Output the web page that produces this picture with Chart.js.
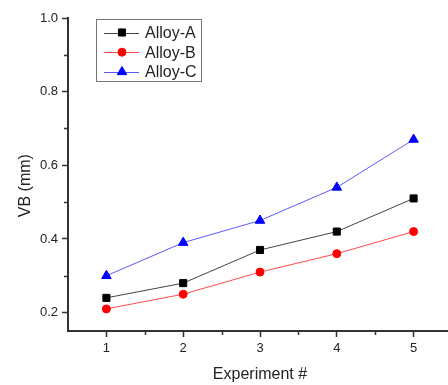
<!DOCTYPE html>
<html>
<head>
<meta charset="utf-8">
<script src="https://cdn.jsdelivr.net/npm/chart.js@4"></script>
<style>
body { margin: 0; background: #fff; }
#wrap { width: 448px; height: 385px; overflow: hidden; position: relative; }
#inner { position: absolute; left: 0; top: 0; width: 452px; height: 385px; }
#grafico { width: 452px; height: 385px; display: block; }
</style>
</head>
<body>
<div id="wrap"><div id="inner"><canvas id="grafico" width="452" height="385"></canvas></div></div>
<script>
// data
const experiments = [1, 2, 3, 4, 5];
const alloyA = [0.24, 0.28, 0.37, 0.42, 0.51];
const alloyB = [0.21, 0.25, 0.31, 0.36, 0.42];
const alloyC = [0.30, 0.39, 0.45, 0.54, 0.67];
const seriesNames = ['Alloy-A', 'Alloy-B', 'Alloy-C'];

const xTicks = [1, 2, 3, 4, 5];
const xMinor = [1.5, 2.5, 3.5, 4.5];
const yTicks = [0.2, 0.4, 0.6, 0.8, 1.0];
const yMinor = [0.3, 0.5, 0.7, 0.9];

const axisColor = '#333';
const textColor = '#222';
const fontFam = '"Liberation Sans", Arial, sans-serif';

function pts(vals) {
  return experiments.map((x, i) => ({ x: x, y: vals[i] }));
}

// minor ticks, placed through the scales
const minorTicks = {
  id: 'minorTicks',
  afterDraw(chart) {
    const ctx = chart.ctx;
    const area = chart.chartArea;
    const xs = chart.scales.x, ys = chart.scales.y;
    ctx.save();
    ctx.strokeStyle = axisColor;
    ctx.lineWidth = 1.5;
    ctx.beginPath();
    xMinor.forEach(v => {
      const px = Math.round(xs.getPixelForValue(v)) + 0.5;
      ctx.moveTo(px, area.bottom);
      ctx.lineTo(px, area.bottom + 4);
    });
    yMinor.forEach(v => {
      const py = Math.round(ys.getPixelForValue(v)) + 0.5;
      ctx.moveTo(area.left, py);
      ctx.lineTo(area.left - 4, py);
    });
    ctx.stroke();
    ctx.restore();
  }
};

// boxed legend in the top-left corner of the plot
const boxLegend = {
  id: 'boxLegend',
  afterDraw(chart) {
    const ctx = chart.ctx;
    const left = 96, top = 19, w = 105, h = 62;
    ctx.save();
    ctx.strokeStyle = '#777';
    ctx.lineWidth = 1;
    ctx.strokeRect(left + 0.5, top + 0.5, w, h);
    ctx.font = '16px ' + fontFam;
    ctx.textBaseline = 'middle';
    chart.data.datasets.forEach((ds, i) => {
      const y = top + 13.5 + i * 19.7;
      ctx.strokeStyle = ds.borderColor;
      ctx.lineWidth = 1;
      ctx.beginPath();
      ctx.moveTo(left + 8, Math.round(y) + 0.5);
      ctx.lineTo(left + 43, Math.round(y) + 0.5);
      ctx.stroke();
      ctx.fillStyle = ds.pointBackgroundColor;
      ctx.strokeStyle = ds.pointBackgroundColor;
      Chart.helpers.drawPoint(ctx, {
        pointStyle: ds.pointStyle, radius: ds.pointRadius, rotation: 0, borderWidth: 1
      }, left + 26, y);
      ctx.fillStyle = textColor;
      ctx.fillText(ds.label, left + 49, y + 1);
    });
    ctx.restore();
  }
};

const ctx = document.getElementById('grafico');

new Chart(ctx, {
  type: 'line',
  data: {
    datasets: [
      {
        label: seriesNames[0], data: pts(alloyA),
        borderColor: '#444', borderWidth: 1,
        pointStyle: 'rect', pointRadius: 5,
        pointBackgroundColor: '#000', pointBorderColor: '#000', pointBorderWidth: 1
      },
      {
        label: seriesNames[1], data: pts(alloyB),
        borderColor: '#ff4a4a', borderWidth: 1,
        pointStyle: 'circle', pointRadius: 4,
        pointBackgroundColor: '#ff0000', pointBorderColor: '#ff0000', pointBorderWidth: 1
      },
      {
        label: seriesNames[2], data: pts(alloyC),
        borderColor: '#5a5aff', borderWidth: 1,
        pointStyle: 'triangle', pointRadius: 5.5,
        pointBackgroundColor: '#0000ff', pointBorderColor: '#0000ff', pointBorderWidth: 1
      }
    ]
  },
  options: {
    responsive: false,
    animation: false,
    devicePixelRatio: 1,
    layout: { autoPadding: false, padding: { top: 18, right: 0, bottom: 0, left: 0 } },
    plugins: { legend: { display: false }, tooltip: { enabled: false } },
    scales: {
      x: {
        type: 'linear',
        min: 0.5,
        max: 5.5,
        afterBuildTicks: s => { s.ticks = xTicks.map(v => ({ value: v })); },
        afterFit: s => { s.height = 54; },
        grid: { drawOnChartArea: false, drawTicks: true, tickLength: 6, tickColor: axisColor, tickWidth: 1.5 },
        border: { color: axisColor, width: 2 },
        ticks: {
          padding: 4,
          color: textColor,
          font: { family: fontFam, size: 13 },
          callback: v => String(v)
        },
        title: {
          display: true,
          text: 'Experiment #',
          color: textColor,
          padding: { top: 0, bottom: 1 },
          font: { family: fontFam, size: 16 }
        }
      },
      y: {
        min: 0.15,
        max: 1.0,
        afterBuildTicks: s => { s.ticks = yTicks.map(v => ({ value: v })); },
        afterFit: s => { s.width = 68; },
        grid: { drawOnChartArea: false, drawTicks: true, tickLength: 6, tickColor: axisColor, tickWidth: 1.5 },
        border: { color: axisColor, width: 2 },
        ticks: {
          padding: 4,
          color: textColor,
          font: { family: fontFam, size: 13 },
          callback: v => v.toFixed(1)
        },
        title: {
          display: true,
          text: 'VB (mm)     ',
          color: textColor,
          padding: { top: 16, bottom: 0 },
          font: { family: fontFam, size: 16 }
        }
      }
    }
  },
  plugins: [minorTicks, boxLegend]
});
</script>
</body>
</html>
